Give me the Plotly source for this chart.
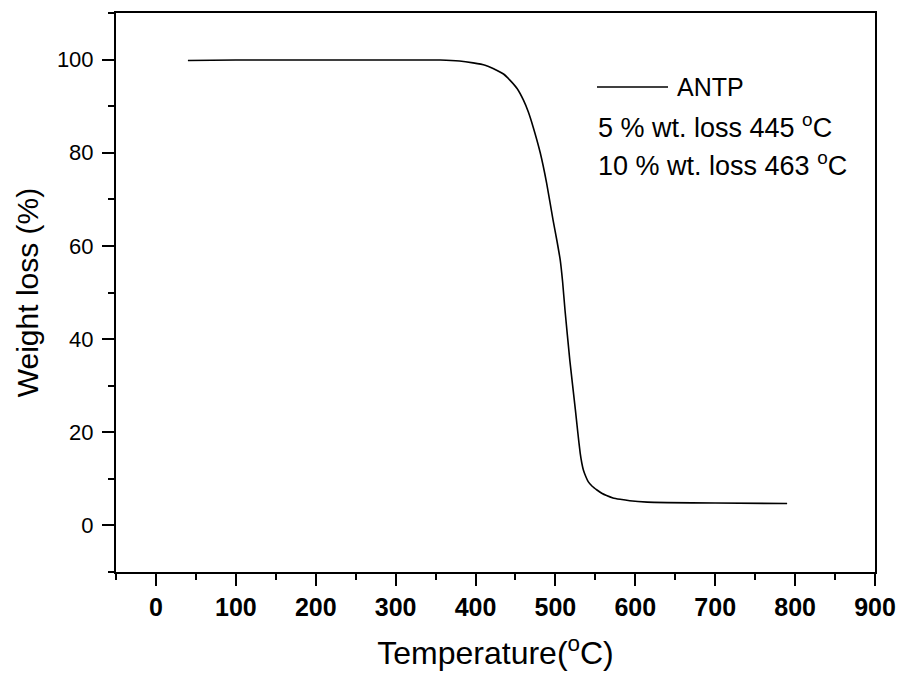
import plotly.graph_objects as go

# Data
temperature = [40, 100, 200, 300, 356, 380, 397, 412, 422, 435, 443, 452, 460, 466, 472,
               481, 489, 497, 502, 506, 509, 512, 518, 525, 528, 531, 533, 535, 538, 541, 546, 552,
               558, 564, 572, 581, 593, 615, 640, 700, 790]
weight = [99.8, 99.9, 99.9, 99.9, 99.9, 99.7, 99.3, 98.8, 98.1, 96.9, 95.6, 93.8, 91.3, 88.8, 85.6,
          80.0, 73.5, 65.6, 61.0, 57.0, 52.3, 46.2, 35.5, 24.8, 20.0, 15.5, 13.4, 11.9, 10.5, 9.4, 8.4, 7.6,
          6.9, 6.4, 5.9, 5.6, 5.3, 5.0, 4.9, 4.8, 4.7]

x_ticks = [0, 100, 200, 300, 400, 500, 600, 700, 800, 900]
y_ticks = [0, 20, 40, 60, 80, 100]
legend_name = "ANTP"
notes = ["5 % wt. loss 445 <sup>o</sup>C", "10 % wt. loss 463 <sup>o</sup>C"]

FONT = "Liberation Sans, Arial, sans-serif"

fig = go.Figure()
fig.add_trace(go.Scatter(x=temperature, y=weight, mode="lines", name=legend_name,
                         line=dict(color="black", width=1.6, shape="spline", smoothing=0.5),
                         showlegend=False))

W, H = 902, 678
L, R, T, B = 116, 27, 13, 106
pw, ph = W - L - R, H - T - B

def px(x):
    return (x - L) / pw

def py(y):
    return (H - B - y) / ph

fig.update_layout(
    width=W, height=H,
    margin=dict(l=L, r=R, t=T, b=B, pad=0),
    paper_bgcolor="white", plot_bgcolor="white",
    font=dict(family=FONT, color="black"),
    showlegend=False,
)

fig.update_xaxes(
    range=[-50, 900], tickvals=x_ticks, ticktext=[str(v) for v in x_ticks],
    ticks="outside", ticklen=12, tickwidth=2, tickcolor="black",
    minor=dict(ticks="outside", ticklen=6, tickwidth=2, tickcolor="black", dtick=50, tick0=-50),
    showline=True, linewidth=2, linecolor="black", mirror=True,
    showgrid=False, zeroline=False,
    tickfont=dict(size=25, weight="bold", family=FONT),
    title=dict(text="Temperature(<sup>o</sup>C)", font=dict(size=32, family=FONT), standoff=22),
    automargin=False,
)
fig.update_yaxes(
    range=[-10, 110], tickvals=y_ticks, ticktext=[str(v) for v in y_ticks],
    ticks="outside", ticklen=12, tickwidth=2, tickcolor="black",
    minor=dict(ticks="outside", ticklen=6, tickwidth=2, tickcolor="black", dtick=10, tick0=-10),
    showline=True, linewidth=2, linecolor="black", mirror=True,
    showgrid=False, zeroline=False,
    tickfont=dict(size=22, family=FONT), ticklabelstandoff=4,
    title=dict(text="Weight loss (%)", font=dict(size=30, family=FONT), standoff=9),
    automargin=False,
)

# legend sample line + text
fig.add_shape(type="line", xref="paper", yref="paper",
              x0=px(597), x1=px(668), y0=py(87), y1=py(87),
              line=dict(color="black", width=1.4))
fig.add_annotation(xref="paper", yref="paper", x=px(675), y=py(87), text=legend_name,
                   showarrow=False, xanchor="left", yanchor="middle",
                   font=dict(size=25, family=FONT, color="black"))
for txt, yy in zip(notes, [126, 164]):
    fig.add_annotation(xref="paper", yref="paper", x=px(596), y=py(yy), text=txt,
                       showarrow=False, xanchor="left", yanchor="middle",
                       font=dict(size=27, family=FONT, color="black"))

fig.write_html("out.html")
